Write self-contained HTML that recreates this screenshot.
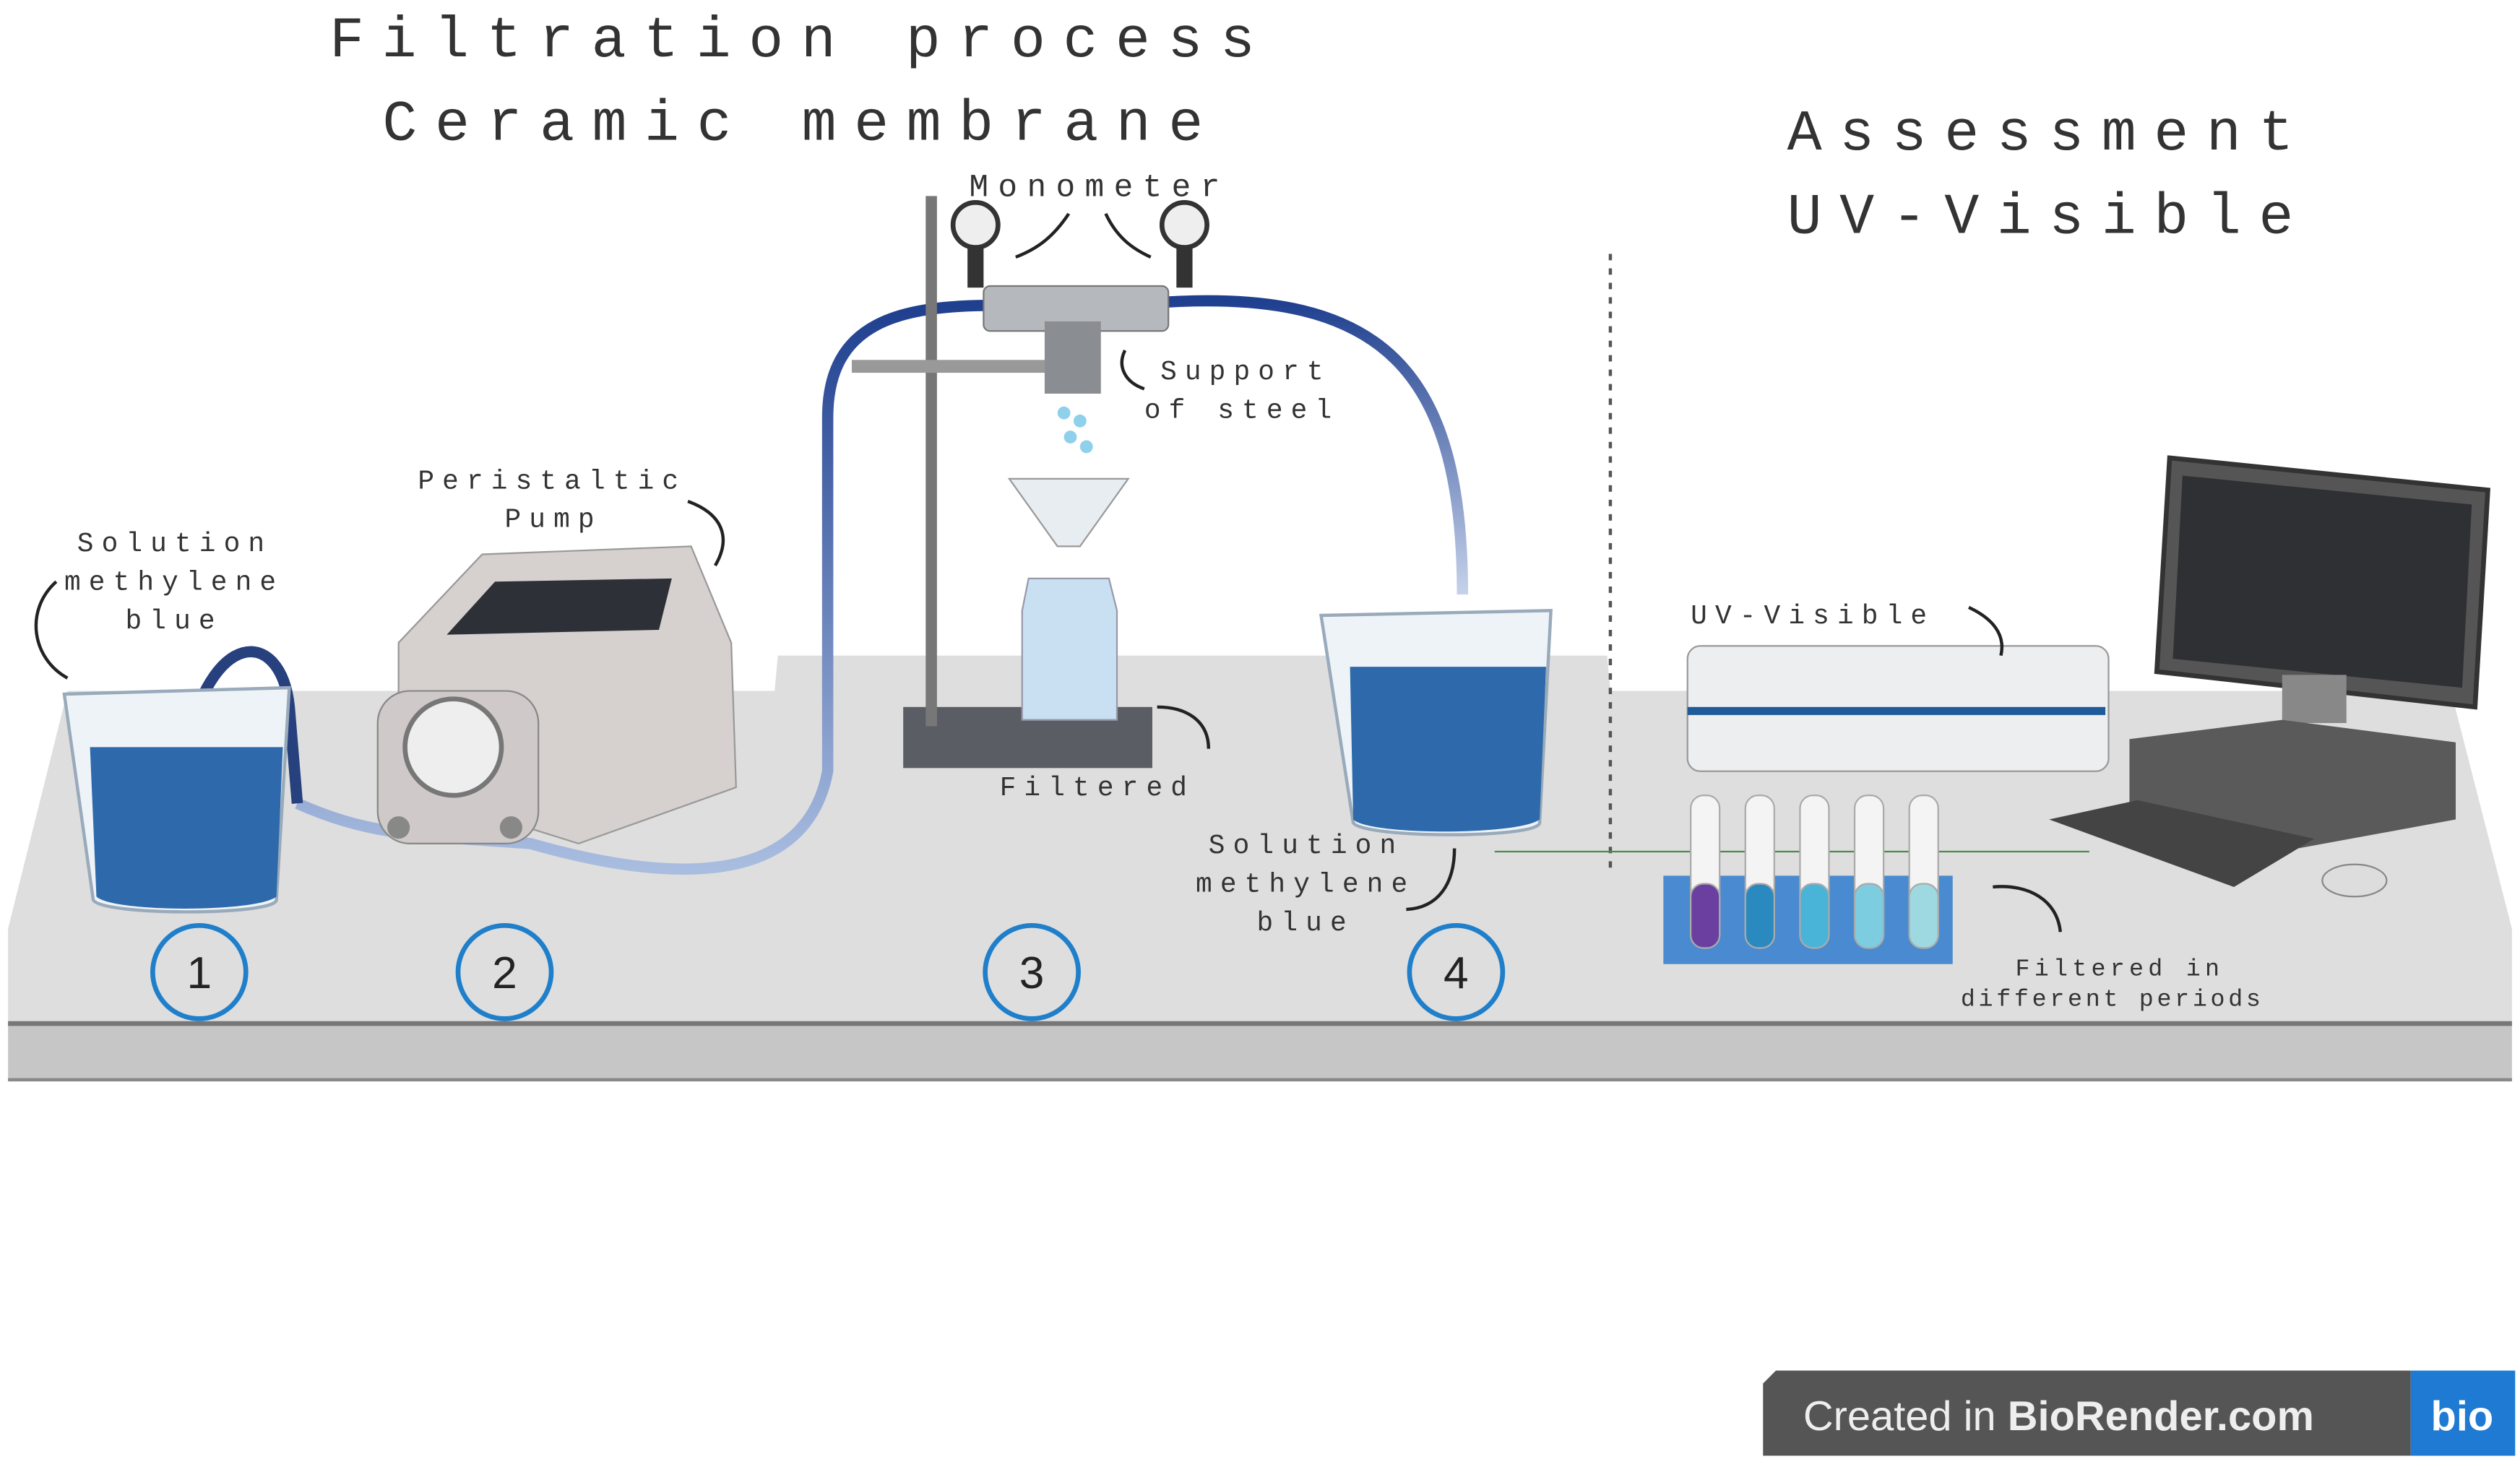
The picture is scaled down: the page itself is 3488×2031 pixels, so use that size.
<!DOCTYPE html>
<html><head><meta charset="utf-8"><style>
html,body{margin:0;padding:0;background:#fff;}
svg{display:block}
.t{font-family:"Liberation Mono",monospace;fill:#333;}
</style></head><body>
<svg width="3488" height="2031" viewBox="0 0 1568 913" preserveAspectRatio="none" xmlns="http://www.w3.org/2000/svg">
<defs>
<linearGradient id="tube" x1="0" y1="0" x2="0" y2="1"><stop offset="0" stop-color="#1f3f8f"/><stop offset="1" stop-color="#a9bde0"/></linearGradient>
<linearGradient id="tube2" x1="0" y1="0" x2="0" y2="1"><stop offset="0" stop-color="#1f3f8f"/><stop offset="1" stop-color="#c6d2ea"/></linearGradient>
</defs>
<rect width="1568" height="913" fill="#fff"/>
<polygon points="5,578 42,430 482,430 484,408 1000,408 1002,430 1525,430 1563,578 1563,637 5,637" fill="#dedede"/>
<rect x="5" y="637" width="1558" height="36" fill="#c6c6c6"/>
<line x1="5" y1="637" x2="1563" y2="637" stroke="#777" stroke-width="3"/>
<line x1="5" y1="672" x2="1563" y2="672" stroke="#888" stroke-width="2"/>
<line x1="1002" y1="158" x2="1002" y2="545" stroke="#555" stroke-width="2" stroke-dasharray="4,5"/>
<line x1="930" y1="530" x2="1300" y2="530" stroke="#4a8a4a" stroke-width="1"/>
<text class="t" x="205" y="35" font-size="36" letter-spacing="11">Filtration process</text>
<text class="t" x="238" y="87" font-size="36" letter-spacing="11">Ceramic membrane</text>
<text class="t" x="1112" y="93" font-size="36" letter-spacing="11">Assessment</text>
<text class="t" x="1112" y="145" font-size="36" letter-spacing="11">UV-Visible</text>
<path d="M185,500 C230,520 260,520 330,525 C400,545 500,560 515,480 L515,260 C515,200 560,190 620,190" fill="none" stroke="url(#tube)" stroke-width="7"/>
<path d="M725,188 C860,180 910,230 910,370" fill="none" stroke="url(#tube2)" stroke-width="7"/>
<path d="M115,470 C130,390 175,390 180,440 L185,500" fill="none" stroke="#27407e" stroke-width="7"/>
<path d="M40,432 L180,428 L172,560 C172,570 62,570 58,560 Z" fill="#eef3f8" stroke="#9ab" stroke-width="2"/>
<path d="M56,465 L176,465 L172,558 C160,568 70,568 60,558 Z" fill="#2e6aab"/>
<polygon points="248,400 300,345 430,340 455,400 458,490 360,525 248,490" fill="#d6d0cf" stroke="#999"/>
<polygon points="278,395 308,362 418,360 410,392" fill="#2d3036"/>
<rect x="235" y="430" width="100" height="95" rx="20" fill="#cfc9c9" stroke="#888"/>
<circle cx="282" cy="465" r="30" fill="#eee" stroke="#777" stroke-width="3"/>
<circle cx="248" cy="515" r="7" fill="#888"/><circle cx="318" cy="515" r="7" fill="#888"/>
<text class="t" x="260" y="304" font-size="17" letter-spacing="5">Peristaltic</text>
<text class="t" x="314" y="328" font-size="17" letter-spacing="5">Pump</text>
<path d="M428,312 C450,320 455,335 445,352" fill="none" stroke="#222" stroke-width="2"/>
<text class="t" x="48" y="343" font-size="17" letter-spacing="5">Solution</text>
<text class="t" x="40" y="367" font-size="17" letter-spacing="5">methylene</text>
<text class="t" x="78" y="391" font-size="17" letter-spacing="5">blue</text>
<path d="M35,362 C15,380 20,410 42,422" fill="none" stroke="#222" stroke-width="2"/>
<rect x="562" y="440" width="155" height="38" fill="#5a5d63"/>
<rect x="576" y="122" width="7" height="330" fill="#777"/>
<rect x="530" y="224" width="130" height="8" fill="#999"/>
<rect x="612" y="178" width="115" height="28" rx="4" fill="#b5b8bc" stroke="#777"/>
<rect x="650" y="200" width="35" height="45" fill="#8a8d92"/>
<circle cx="607" cy="140" r="14" fill="#eee" stroke="#333" stroke-width="3"/><rect x="602" y="154" width="10" height="25" fill="#333"/>
<circle cx="737" cy="140" r="14" fill="#eee" stroke="#333" stroke-width="3"/><rect x="732" y="154" width="10" height="25" fill="#333"/>
<text class="t" x="603" y="122" font-size="20" letter-spacing="6">Monometer</text>
<path d="M665,133 C655,148 645,155 632,160 M688,133 C695,148 705,155 716,160" fill="none" stroke="#222" stroke-width="2"/>
<text class="t" x="722" y="236" font-size="17" letter-spacing="5">Support</text>
<text class="t" x="712" y="260" font-size="17" letter-spacing="5">of steel</text>
<path d="M712,242 C700,238 695,228 700,218" fill="none" stroke="#222" stroke-width="2"/>
<g fill="#8fd0ea"><circle cx="662" cy="257" r="4"/><circle cx="672" cy="262" r="4"/><circle cx="666" cy="272" r="4"/><circle cx="676" cy="278" r="4"/></g>
<polygon points="628,298 702,298 672,340 658,340" fill="#e8edf1" stroke="#999"/>
<path d="M640,360 L690,360 L695,380 L695,448 L636,448 L636,380 Z" fill="#c9dff2" stroke="#99a"/>
<text class="t" x="622" y="495" font-size="17" letter-spacing="5">Filtered</text>
<path d="M752,466 C752,450 740,440 720,440" fill="none" stroke="#222" stroke-width="2"/>
<path d="M822,383 L965,380 L958,512 C958,522 848,522 842,512 Z" fill="#eef3f8" stroke="#9ab" stroke-width="2"/>
<path d="M840,415 L962,415 L958,510 C945,520 852,520 842,510 Z" fill="#2e6aab"/>
<text class="t" x="752" y="531" font-size="17" letter-spacing="5">Solution</text>
<text class="t" x="744" y="555" font-size="17" letter-spacing="5">methylene</text>
<text class="t" x="782" y="579" font-size="17" letter-spacing="5">blue</text>
<path d="M875,566 C895,565 905,550 905,528" fill="none" stroke="#222" stroke-width="2"/>
<rect x="1050" y="402" width="262" height="78" rx="8" fill="#eceeef" stroke="#999"/>
<rect x="1050" y="440" width="260" height="5" fill="#1f5a9a"/>
<text class="t" x="1052" y="388" font-size="17" letter-spacing="5">UV-Visible</text>
<path d="M1225,378 C1240,385 1248,395 1245,408" fill="none" stroke="#222" stroke-width="2"/>
<polygon points="1350,285 1548,305 1540,440 1342,418" fill="#555" stroke="#333" stroke-width="3"/>
<polygon points="1358,296 1538,314 1532,428 1352,410" fill="#2f3033"/>
<rect x="1420" y="420" width="40" height="30" fill="#888"/>
<polygon points="1325,460 1420,448 1528,462 1528,510 1430,528 1325,500" fill="#5a5a5a"/>
<polygon points="1275,510 1330,498 1440,522 1390,552" fill="#444"/>
<ellipse cx="1465" cy="548" rx="20" ry="10" fill="#ddd" stroke="#888"/>
<polygon points="1035,545 1215,545 1215,600 1035,600" fill="#4a8ad0"/>
<g stroke="#aaa" stroke-width="1">
<rect x="1052" y="495" width="18" height="95" rx="8" fill="#f4f4f4"/><rect x="1052" y="550" width="18" height="40" rx="8" fill="#6a3fa0"/>
<rect x="1086" y="495" width="18" height="95" rx="8" fill="#f4f4f4"/><rect x="1086" y="550" width="18" height="40" rx="8" fill="#2a8ac0"/>
<rect x="1120" y="495" width="18" height="95" rx="8" fill="#f4f4f4"/><rect x="1120" y="550" width="18" height="40" rx="8" fill="#4ab4d8"/>
<rect x="1154" y="495" width="18" height="95" rx="8" fill="#f4f4f4"/><rect x="1154" y="550" width="18" height="40" rx="8" fill="#7ccde0"/>
<rect x="1188" y="495" width="18" height="95" rx="8" fill="#f4f4f4"/><rect x="1188" y="550" width="18" height="40" rx="8" fill="#9ed8e0"/>
</g>
<text class="t" x="1254" y="607" font-size="15" letter-spacing="2.8">Filtered in</text>
<text class="t" x="1220" y="626" font-size="15" letter-spacing="2.1">different periods</text>
<path d="M1282,580 C1280,560 1262,550 1240,552" fill="none" stroke="#222" stroke-width="2"/>
<g fill="none" stroke="#1f7fca" stroke-width="3">
<circle cx="124" cy="605" r="29"/><circle cx="314" cy="605" r="29"/><circle cx="642" cy="605" r="29"/><circle cx="906" cy="605" r="29"/></g>
<g font-family="Liberation Sans,sans-serif" font-size="28" fill="#222" text-anchor="middle">
<text x="124" y="615">1</text><text x="314" y="615">2</text><text x="642" y="615">3</text><text x="906" y="615">4</text></g>
<path d="M1105,853 L1500,853 L1500,906 L1097,906 L1097,861 Z" fill="#555"/>
<rect x="1500" y="853" width="65" height="53" fill="#1e7ad3"/>
<text x="1122" y="890" font-family="Liberation Sans,sans-serif" font-size="26" fill="#eee">Created in <tspan font-weight="bold">BioRender.com</tspan></text>
<text x="1532" y="890" font-family="Liberation Sans,sans-serif" font-size="26" font-weight="bold" fill="#fff" text-anchor="middle">bio</text>
</svg>
</body></html>
